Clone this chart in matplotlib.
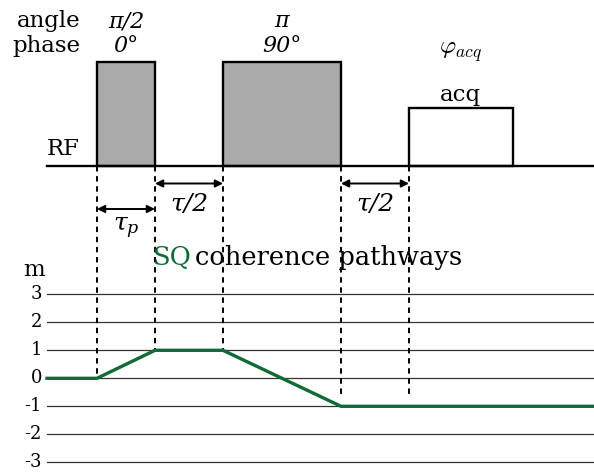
import numpy as np
import matplotlib.pyplot as plt
from matplotlib.patches import Rectangle

plt.rcParams['font.family'] = ['DejaVu Serif']
plt.rcParams['mathtext.fontset'] = 'cm'

# timing (horizontal position of events, arbitrary time units)
pulse_start = [97, 223]
pulse_end = [155, 341]
pulse_angle = ['π/2', 'π']
pulse_phase = ['0°', '90°']
acq_start, acq_end = 409, 513
t_first, t_last = 47, 594

# coherence pathway
path_t = [47, 97, 155, 223, 341, 594]
path_m = [0, 0, 1, 1, -1, -1]
m_levels = [3, 2, 1, 0, -1, -2, -3]

# events marked with dashed lines and the pathway level they fall to
event_t = [97, 155, 223, 341, 409]
event_m = [0, 1, 1, -0.7, -0.7]

green = '#0e6b37'
rf_base, pulse_h, acq_h = 165.5, 103.5, 57.5
m0_y, m_step = 378.3, 28.0


def m_y(m):
    return m0_y - m_step * np.asarray(m)


fig = plt.figure(figsize=(5.94, 4.75), dpi=100)
ax = fig.add_axes([0, 0, 1, 1])
ax.set_xlim(0, 594)
ax.set_ylim(475, 0)
ax.axis('off')

# RF line and pulses
ax.plot([t_first, t_last], [rf_base, rf_base], color='black', lw=1.7, zorder=3)
for s, e, a, p in zip(pulse_start, pulse_end, pulse_angle, pulse_phase):
    ax.add_patch(Rectangle((s, rf_base - pulse_h), e - s, pulse_h,
                           facecolor='#aaaaaa', edgecolor='black', lw=1.7, zorder=2))
    ax.text((s + e) / 2, 27, a, ha='center', va='baseline', fontsize=16, style='italic')
    ax.text((s + e) / 2, 52, p, ha='center', va='baseline', fontsize=16, style='italic')
ax.add_patch(Rectangle((acq_start, rf_base - acq_h), acq_end - acq_start, acq_h,
                       facecolor='white', edgecolor='black', lw=1.7, zorder=2))
ax.text(460, 101, 'acq', ha='center', va='baseline', fontsize=16.5)
ax.text(461, 52, r'$\varphi_{acq}$', ha='center', va='center', fontsize=18)

ax.text(80, 27, 'angle', ha='right', va='baseline', fontsize=16.5)
ax.text(80, 52, 'phase', ha='right', va='baseline', fontsize=16.5)
ax.text(80, 155, 'RF', ha='right', va='baseline', fontsize=16.5)

# dashed event lines
for t, m in zip(event_t, event_m):
    ax.plot([t, t], [rf_base, m_y(m)], color='black', lw=1.4,
            ls=(0, (2.8, 2.4)), zorder=1)

# delay arrows
arrows = [(155, 223, 183.5, 'τ/2', 211),
          (341, 409, 183.5, 'τ/2', 211),
          (97, 155, 209, r'$\tau_p$', 231)]
for a, b, y, lab, ly in arrows:
    ax.annotate('', xy=(a, y), xytext=(b, y),
                arrowprops=dict(arrowstyle='<|-|>', color='black', lw=1.4,
                                mutation_scale=11, shrinkA=0, shrinkB=0))
    ax.text((a + b) / 2, ly, lab, ha='center', va='baseline', fontsize=18,
            style='italic', math_fontfamily='dejavuserif')

# title of the pathway diagram
ax.text(153, 265, 'SQ', ha='left', va='baseline', fontsize=18.5, color=green)
ax.text(195, 265, 'coherence pathways', ha='left', va='baseline', fontsize=18.5)
ax.text(34, 276, 'm', ha='center', va='baseline', fontsize=16.5)

# coherence levels
for m in m_levels:
    ax.plot([t_first, t_last], [m_y(m), m_y(m)], color='#333333', lw=0.9, zorder=0)
    ax.text(42, m_y(m), str(m), ha='right', va='center', fontsize=13)

ax.plot(path_t, m_y(path_m), color=green, lw=2.4, zorder=4)

plt.savefig('out.png', dpi=100)
